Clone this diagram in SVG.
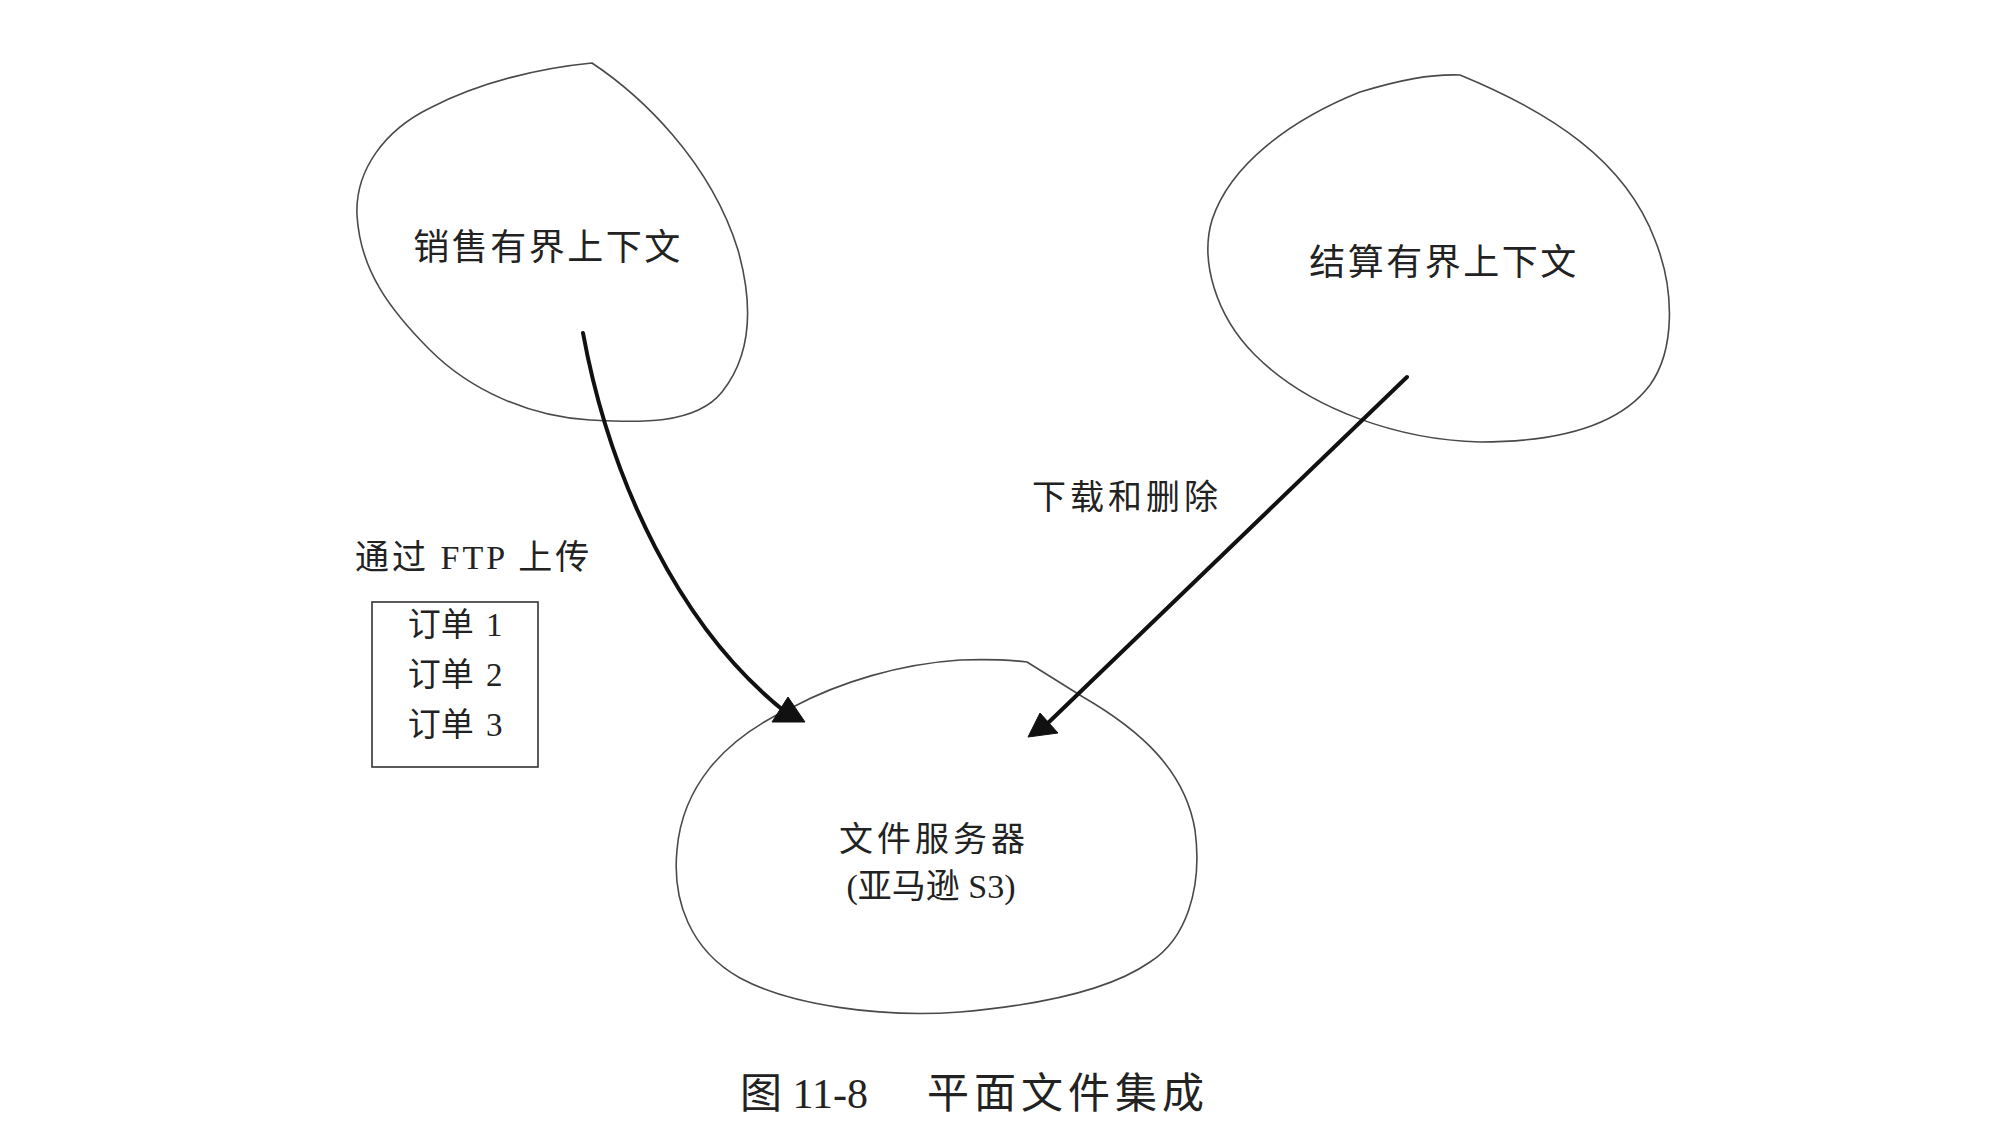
<svg xmlns="http://www.w3.org/2000/svg" width="2012" height="1146" viewBox="0 0 2012 1146">
<style>
.blob{fill:none;stroke:#4a4a4a;stroke-width:1.6;stroke-linejoin:round}
.lbl{font-family:"Liberation Serif","Noto Sans CJK SC",serif;fill:#222}
.cjk{font-family:"Noto Sans CJK SC",sans-serif;fill:#222}
.conn{fill:none;stroke:#111;stroke-width:4;stroke-linecap:round}
.head{fill:#111;stroke:#111;stroke-width:1;stroke-linejoin:round}
</style>
<rect width="2012" height="1146" fill="#fff"/>
<g id="sales">
<path class="blob" d="M592,63 C640,95 710,160 738,250 C752,300 754,352 722,392 C694,427 630,422 590,420 C530,417 470,390 430,350 C390,310 360,270 357,215 C355,170 385,130 430,108 C480,82 540,68 592,63 Z"/>
<text class="cjk" x="548" y="260" font-size="36" letter-spacing="2.5" text-anchor="middle">销售有界上下文</text>
</g>
<g id="billing">
<path class="blob" d="M1460,75 C1550,112 1625,160 1655,240 C1675,290 1675,350 1650,385 C1620,425 1560,442 1480,442 C1400,440 1310,410 1255,355 C1215,315 1200,260 1212,220 C1230,165 1290,120 1360,92 C1400,80 1430,74 1460,75 Z"/>
<text class="cjk" x="1444" y="275" font-size="36" letter-spacing="2.5" text-anchor="middle">结算有界上下文</text>
</g>
<g id="fileserver">
<path class="blob" d="M1027,662 L1083,697 C1140,730 1185,770 1195,830 C1203,890 1185,940 1150,962 C1110,990 1040,1005 960,1012 C880,1018 790,1005 740,978 C690,950 672,900 677,850 C682,790 720,740 793,707 C840,682 900,664 960,660 C990,659 1010,660 1027,662 Z"/>
<text class="cjk" x="934" y="851" font-size="34" letter-spacing="4" text-anchor="middle">文件服务器</text>
<text class="lbl" x="931" y="898" font-size="34" text-anchor="middle">(亚马逊 S3)</text>
</g>
<g id="orders">
<rect x="372" y="602" width="166" height="165" fill="none" stroke="#333" stroke-width="1.6"/>
<text class="lbl" x="455" y="636" font-size="33" text-anchor="middle" word-spacing="4">订单 1</text>
<text class="lbl" x="455" y="686" font-size="33" text-anchor="middle" word-spacing="4">订单 2</text>
<text class="lbl" x="455" y="736" font-size="33" text-anchor="middle" word-spacing="4">订单 3</text>
</g>
<g id="connectors">
<path class="conn" d="M583,333 C610,480 680,630 788,714"/>
<polygon class="head" points="805,722 788,697 772,722"/>
<path class="conn" d="M1407,377 L1048,723"/>
<polygon class="head" points="1028,737 1040,713 1058,733"/>
<text class="lbl" x="355" y="569" font-size="34" letter-spacing="3">通过 FTP 上传</text>
<text class="cjk" x="1127" y="509" font-size="34" letter-spacing="4" text-anchor="middle">下载和删除</text>
</g>
<g id="caption">
<text class="lbl" y="1108" font-size="42"><tspan x="740">图 11-8</tspan><tspan x="927" letter-spacing="5">平面文件集成</tspan></text>
</g>
</svg>
